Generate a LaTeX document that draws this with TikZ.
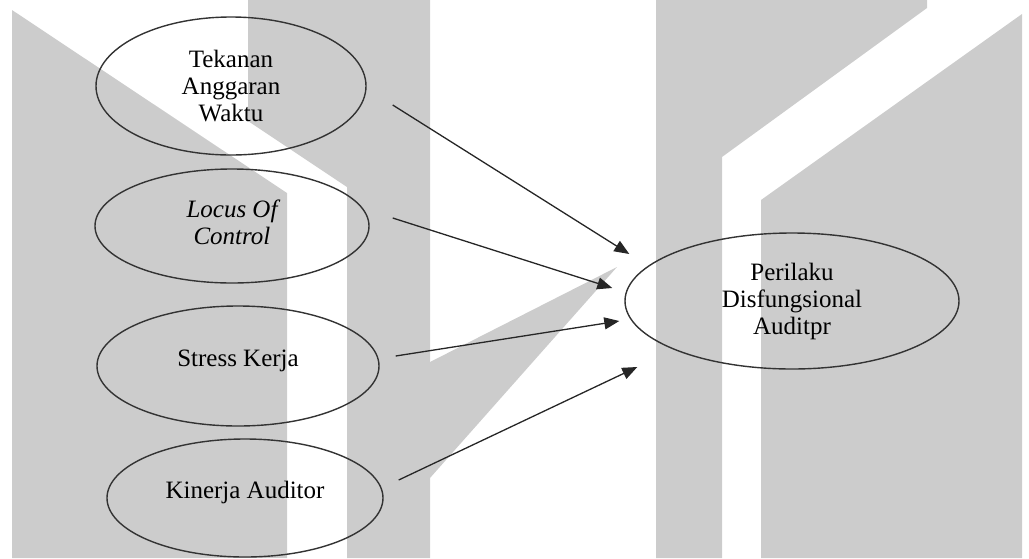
\documentclass[tikz,border=0pt]{standalone}
\usepackage{fontspec}
\setmainfont{Liberation Serif}
\usetikzlibrary{arrows.meta,shapes.geometric}

\begin{document}
\begin{tikzpicture}[x=1pt,y=-1pt,
  wm/.style={fill=black!20},
  var/.style={ellipse,draw=black!80,line width=1.4pt,inner sep=0pt,align=center,font=\fontsize{25}{27}\selectfont},
  oneline/.style={text height=9pt,text depth=9pt},
  arr/.style={draw=black!85,line width=1.3pt,-{Triangle[length=15pt,width=12pt]}}]
\useasboundingbox (0,0) rectangle (1029,558);

\fill[wm] (12,10) -- (287,193) -- (287,558) -- (12,558) -- cycle;
\fill[wm] (248,0) -- (430,0) -- (430,558) -- (347,558) -- (347,187) -- (248,121) -- cycle;
\fill[wm] (430,362) -- (617,267) -- (430,478) -- cycle;
\fill[wm] (656,0) -- (927,0) -- (927,8) -- (722,157) -- (722,558) -- (656,558) -- cycle;
\fill[wm] (1022,14) -- (1022,558) -- (761,558) -- (761,200) -- cycle;

\node[var,minimum width=270pt,minimum height=138pt] (tekanan) at (231,86) {Tekanan\\Anggaran\\Waktu};
\node[var,minimum width=274pt,minimum height=114pt,text depth=8pt,font=\fontsize{25}{27}\selectfont\itshape] (locus) at (232,226) {Locus Of\\Control};
\node[var,oneline,minimum width=282pt,minimum height=120pt] (stress) at (238,366) {Stress Kerja};
\node[var,oneline,minimum width=276pt,minimum height=118pt] (kinerja) at (245,498) {Kinerja Auditor};
\node[var,minimum width=334pt,minimum height=136pt] (perilaku) at (792,301) {Perilaku\\Disfungsional\\Auditpr};

\draw[arr] ([shift={(26,19)}]tekanan.east) -- ([shift={(5,-47)}]perilaku.west);
\draw[arr] ([shift={(23,-8)}]locus.east) -- ([shift={(-12,-13)}]perilaku.west);
\draw[arr] ([shift={(16,-10)}]stress.east) -- ([shift={(-5,20)}]perilaku.west);
\draw[arr] ([shift={(15,-18)}]kinerja.east) -- ([shift={(13,66)}]perilaku.west);
\end{tikzpicture}
\end{document}
